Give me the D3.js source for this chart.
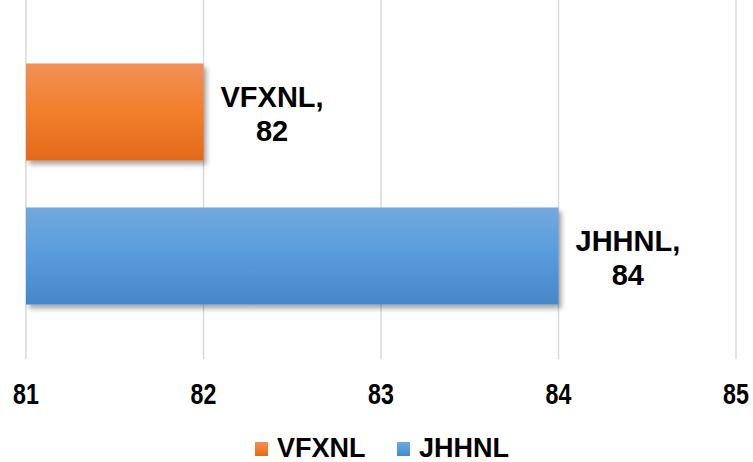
<!DOCTYPE html>
<html>
<head>
<meta charset="utf-8">
<script src="https://cdn.jsdelivr.net/npm/d3@7"></script>
<style>
  body { margin: 0; background: #fff; }
  text { font-family: "Liberation Sans", Arial, sans-serif; font-weight: bold; fill: #000; }
</style>
</head>
<body>
<svg width="753" height="462"></svg>
<script>
const categories = ["VFXNL", "JHHNL"];
const values = [82, 84];
const ticks = [81, 82, 83, 84, 85];

const colors = {
  VFXNL: ["#f19158", "#f27e2b", "#e2691a"],
  JHHNL: ["#72a9de", "#579bdc", "#4787c9"]
};

const svg = d3.select("svg");

const x = d3.scaleLinear().domain([81, 85]).range([26, 736]);
const y = d3.scaleBand().domain(categories).range([40, 328])
  .paddingInner(0.326).paddingOuter(0.163);

const defs = svg.append("defs");
categories.forEach(c => {
  const g = defs.append("linearGradient").attr("id", "grad-" + c)
    .attr("x1", 0).attr("y1", 0).attr("x2", 0).attr("y2", 1);
  g.append("stop").attr("offset", "0%").attr("stop-color", colors[c][0]);
  g.append("stop").attr("offset", "50%").attr("stop-color", colors[c][1]);
  g.append("stop").attr("offset", "100%").attr("stop-color", colors[c][2]);
});
defs.append("filter").attr("id", "shadow")
  .attr("x", "-10%").attr("y", "-10%").attr("width", "130%").attr("height", "140%")
  .append("feDropShadow")
  .attr("dx", 3).attr("dy", 4).attr("stdDeviation", 2.5)
  .attr("flood-color", "#000").attr("flood-opacity", 0.35);

// gridlines
svg.append("g").selectAll("line")
  .data(ticks)
  .join("line")
  .attr("x1", d => x(d)).attr("x2", d => x(d))
  .attr("y1", 0).attr("y2", 359)
  .attr("stroke", "#d9d9d9").attr("stroke-width", 1.5);

// x tick labels (narrow look, as in the original)
svg.append("g").selectAll("text")
  .data(ticks)
  .join("text")
  .attr("transform", d => `translate(${x(d)},404) scale(0.8,1)`)
  .attr("text-anchor", "middle")
  .style("font-size", "29px")
  .text(d => d);

// bars
const data = categories.map((c, i) => ({ name: c, value: values[i] }));

svg.append("g").selectAll("rect")
  .data(data)
  .join("rect")
  .attr("x", x(81))
  .attr("y", d => y(d.name))
  .attr("width", d => x(d.value) - x(81))
  .attr("height", y.bandwidth())
  .attr("fill", d => `url(#grad-${d.name})`)
  .attr("filter", "url(#shadow)");

// data labels
const labels = svg.append("g").selectAll("text")
  .data(data)
  .join("text")
  .attr("text-anchor", "middle")
  .style("font-size", "29px");

labels.each(function(d) {
  const t = d3.select(this);
  const cy = y(d.name) + y.bandwidth() / 2;
  const l1 = t.append("tspan").attr("x", 0).attr("y", cy - 5).text(d.name + ",");
  const l2 = t.append("tspan").attr("x", 0).attr("y", cy + 29).text(d.value);
  const w = Math.max(l1.node().getComputedTextLength(), l2.node().getComputedTextLength());
  const cx = x(d.value) + 17 + w / 2;
  t.selectAll("tspan").attr("x", cx);
});

// legend
const legend = svg.append("g");
const legendX = [255, 397];
categories.forEach((c, i) => {
  legend.append("rect")
    .attr("x", legendX[i]).attr("y", 442)
    .attr("width", 13).attr("height", 14)
    .attr("fill", `url(#grad-${c})`);
  legend.append("text")
    .attr("x", legendX[i] + 22).attr("y", 457)
    .style("font-size", "27px")
    .text(c);
});
</script>
</body>
</html>
